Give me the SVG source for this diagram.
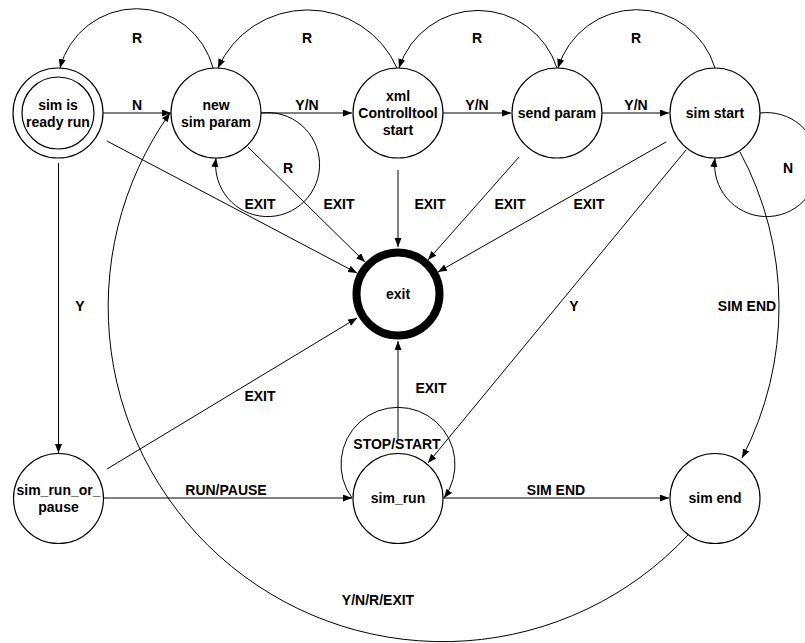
<svg xmlns="http://www.w3.org/2000/svg" width="805" height="643" viewBox="0 0 805 643">
  <style>
    .node { fill: #fff; stroke: #000; stroke-width: 1.2; }
    .edge { fill: none; stroke: #000; stroke-width: 1; }
    .arrow { marker-end: url(#head); }
    text { font-family: "Liberation Sans", Arial, sans-serif; font-weight: bold; font-size: 14px; text-anchor: middle; fill: #000; }
  </style>
  <defs>
    <marker id="head" markerUnits="userSpaceOnUse" markerWidth="10" markerHeight="8" refX="9" refY="3.5" orient="auto">
      <path d="M0,0 L9,3.5 L0,7 z" fill="#000"/>
    </marker>
  </defs>
  <rect width="805" height="643" fill="#fff"/>

  <!-- transitions -->
  <g id="edges">
    <!-- R back-transitions over the top row -->
    <path class="edge arrow" d="M213,68 A79,79 0 0 0 60,68"/>
    <path class="edge arrow" d="M397,68 A98,98 0 0 0 218,68"/>
    <path class="edge arrow" d="M557,68 A83,83 0 0 0 399,68"/>
    <path class="edge arrow" d="M715,68 A82,82 0 0 0 558,68"/>
    <!-- forward transitions along the top row -->
    <path class="edge arrow" d="M103,113 L171,113"/>
    <path class="edge arrow" d="M261,113 L352,113"/>
    <path class="edge arrow" d="M443,113 L511,113"/>
    <path class="edge arrow" d="M602,113 L669,113"/>
    <!-- self loops -->
    <path class="edge arrow" d="M261,113 A52,52 0 1 1 216,158"/>
    <path class="edge arrow" d="M760,113 A52,52 0 1 1 715,158"/>
    <path class="edge arrow" d="M352,498 A57,57 0 1 1 444,498"/>
    <!-- EXIT transitions -->
    <path class="edge arrow" d="M107,141 L357,273"/>
    <path class="edge arrow" d="M248,147 L365,262"/>
    <path class="edge arrow" d="M398,170 L398,247"/>
    <path class="edge arrow" d="M519,157 L428,260"/>
    <path class="edge arrow" d="M666,142 L438,272"/>
    <path class="edge arrow" d="M107,469 L357,318"/>
    <path class="edge arrow" d="M398,440 L398,341"/>
    <!-- Y -->
    <path class="edge arrow" d="M58.5,163 L58.5,453"/>
    <path class="edge arrow" d="M686,150 L428,463"/>
    <!-- SIM END -->
    <path class="edge arrow" d="M740,152 A327,327 0 0 1 742,458"/>
    <path class="edge arrow" d="M443,498 L669,498"/>
    <!-- RUN/PAUSE -->
    <path class="edge arrow" d="M104,498 L352,498"/>
    <!-- Y/N/R/EXIT -->
    <path class="edge arrow" d="M688,535 A334.8,334.8 0 0 1 170,113"/>
  </g>

  <!-- transition labels -->
  <g id="edge-labels">
    <text x="137" y="43">R</text>
    <text x="307" y="43">R</text>
    <text x="477" y="43">R</text>
    <text x="636" y="43">R</text>
    <text x="137" y="110">N</text>
    <text x="307" y="110">Y/N</text>
    <text x="477" y="110">Y/N</text>
    <text x="636" y="110">Y/N</text>
    <text x="288" y="173">R</text>
    <text x="788" y="173">N</text>
    <text x="260" y="209">EXIT</text>
    <text x="339" y="209">EXIT</text>
    <text x="430" y="209">EXIT</text>
    <text x="510" y="209">EXIT</text>
    <text x="589" y="209">EXIT</text>
    <text x="80" y="311">Y</text>
    <text x="574" y="311">Y</text>
    <text x="747" y="311">SIM END</text>
    <text x="431" y="393">EXIT</text>
    <text x="260" y="401">EXIT</text>
    <text x="397" y="449">STOP/START</text>
    <text x="226" y="495">RUN/PAUSE</text>
    <text x="556" y="495">SIM END</text>
    <text x="378" y="605">Y/N/R/EXIT</text>
  </g>

  <!-- states -->
  <g id="sim-ready">
    <circle class="node" cx="58" cy="113" r="45"/>
    <circle class="node" cx="58" cy="113" r="36"/>
    <text x="58" y="110">sim is</text>
    <text x="58" y="127">ready run</text>
  </g>
  <g id="new-sim-param">
    <circle class="node" cx="216" cy="113" r="45"/>
    <text x="216" y="110">new</text>
    <text x="216" y="127">sim param</text>
  </g>
  <g id="xml-start">
    <circle class="node" cx="398" cy="113" r="45"/>
    <text x="398" y="101">xml</text>
    <text x="398" y="118">Controlltool</text>
    <text x="398" y="135">start</text>
  </g>
  <g id="send-param">
    <circle class="node" cx="557" cy="113" r="45"/>
    <text x="557" y="118">send param</text>
  </g>
  <g id="sim-start">
    <circle class="node" cx="715" cy="113" r="45"/>
    <text x="715" y="118">sim start</text>
  </g>
  <g id="exit">
    <circle cx="398" cy="294" r="41.5" fill="#fff" stroke="#000" stroke-width="8"/>
    <text x="398" y="299">exit</text>
  </g>
  <g id="sim-run-or-pause">
    <circle class="node" cx="58.5" cy="498.5" r="45"/>
    <text x="58.5" y="495">sim_run_or_</text>
    <text x="58.5" y="512">pause</text>
  </g>
  <g id="sim-run">
    <circle class="node" cx="398" cy="498.5" r="45"/>
    <text x="398" y="503">sim_run</text>
  </g>
  <g id="sim-end">
    <circle class="node" cx="715" cy="498.5" r="45"/>
    <text x="715" y="503">sim end</text>
  </g>
</svg>
